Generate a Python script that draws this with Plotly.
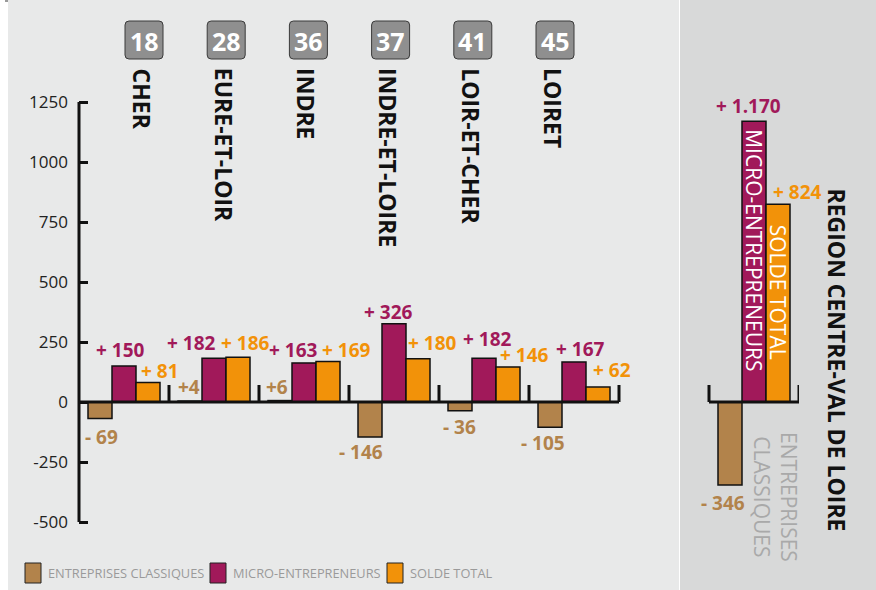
import plotly.graph_objects as go

# ── data ──────────────────────────────────────────────────────────────────────
DEPARTEMENTS = ["CHER", "EURE-ET-LOIR", "INDRE", "INDRE-ET-LOIRE", "LOIR-ET-CHER", "LOIRET"]
CODES = ["18", "28", "36", "37", "41", "45"]
REGION = "REGION CENTRE-VAL DE LOIRE"

CLASSIQUES = [-69, 4, 6, -146, -36, -105]
MICRO = [150, 182, 163, 326, 182, 167]
SOLDE = [81, 186, 169, 180, 146, 62]

REGION_CLASSIQUES = -346
REGION_MICRO = 1170
REGION_SOLDE = 824

SERIES_NAMES = ["ENTREPRISES CLASSIQUES", "MICRO-ENTREPRENEURS", "SOLDE TOTAL"]
Y_TICKS = [-500, -250, 0, 250, 500, 750, 1000, 1250]

# ── style ─────────────────────────────────────────────────────────────────────
C_BROWN = "#b2834b"
C_MAGENTA = "#a1195a"
C_ORANGE = "#f29209"
COLORS = [C_BROWN, C_MAGENTA, C_ORANGE]
BG_LEFT = "#e8e9e9"
BG_RIGHT = "#d8d9d9"
FONT = "Open Sans"

W, H = 876, 590
PX_PER_UNIT = 0.24       # vertical scale (px per value unit)
ZERO_PX = 402            # pixel row of value 0
PLOT_L, PLOT_R = 79, 799

# label nudges (px): horizontal offset, distance from bar end
NUDGE_DX = [
    [1, -1, -3.5, -9.5, -0.5, -7.5, -7.5],
    [-3.5, -22.5, -10.5, -5.5, 3.5, 6.5, -5.5],
    [12, 7.5, 18.5, 14.5, 16.5, 13.5, 19.5],
]
NUDGE_DY = [
    [18, 14, 14, 15, 16, 16, 18],
    [16, 15, 13, 12, 19, 13, 15],
    [12, 14, 11, 16, 12, 17, 12],
]


def px_x(px):
    return (px - PLOT_L) / (PLOT_R - PLOT_L)


def px_y(py):
    return (H - py) / H


def fmt(v):
    sign = "+" if v > 0 else "-"
    num = f"{abs(v):,}".replace(",", ".")
    return sign + ("" if abs(v) < 10 else " ") + num


x_pos = list(range(len(DEPARTEMENTS))) + [len(DEPARTEMENTS) + 1]
series = [
    CLASSIQUES + [REGION_CLASSIQUES],
    MICRO + [REGION_MICRO],
    SOLDE + [REGION_SOLDE],
]

fig = go.Figure()
for name, vals, col in zip(SERIES_NAMES, series, COLORS):
    fig.add_trace(go.Bar(
        x=x_pos, y=vals, name=name,
        marker=dict(color=col, line=dict(color="#111", width=1.5)),
        showlegend=False, hoverinfo="skip",
    ))

y_top = ZERO_PX / PX_PER_UNIT
y_bot = (ZERO_PX - H) / PX_PER_UNIT

fig.update_layout(
    width=W, height=H,
    margin=dict(l=PLOT_L, r=W - PLOT_R, t=0, b=0, pad=0),
    paper_bgcolor="white",
    plot_bgcolor="rgba(0,0,0,0)",
    barmode="group", bargap=0.2, bargroupgap=0,
    font=dict(family=FONT, color="#222"),
    xaxis=dict(range=[-0.5, 7.5], visible=False, fixedrange=True),
    yaxis=dict(
        range=[y_bot, y_top], tickvals=Y_TICKS, ticktext=[str(t) for t in Y_TICKS],
        ticks="inside", ticklen=9, tickwidth=3, tickcolor="#111",
        showgrid=False, zeroline=False, showline=False, fixedrange=True,
        tickfont=dict(size=17, color="#222"), ticklabelstandoff=10,
    ),
)

# background panels
fig.add_shape(type="rect", xref="paper", yref="paper", layer="below",
              x0=px_x(8), x1=px_x(679), y0=0, y1=1, fillcolor=BG_LEFT, line_width=0)
fig.add_shape(type="rect", xref="paper", yref="paper", layer="below",
              x0=px_x(680), x1=px_x(W), y0=0, y1=1, fillcolor=BG_RIGHT, line_width=0)
fig.add_shape(type="rect", xref="paper", yref="paper", layer="below",
              x0=px_x(5), x1=px_x(8), y0=px_y(2), y1=1, fillcolor="#9a9a9a", line_width=0)

# axes drawn by hand
stub = 17 / PX_PER_UNIT
fig.add_shape(type="line", xref="paper", yref="y", x0=0, x1=0,
              y0=Y_TICKS[0], y1=Y_TICKS[-1], line=dict(color="#111", width=3))
fig.add_shape(type="line", x0=-0.5, x1=len(DEPARTEMENTS) - 0.5, y0=0, y1=0,
              line=dict(color="#111", width=3))
for i in range(len(DEPARTEMENTS)):
    fig.add_shape(type="line", x0=i + 0.5, x1=i + 0.5, y0=0, y1=stub,
                  line=dict(color="#111", width=3))
rx = x_pos[-1]
fig.add_shape(type="line", x0=rx - 0.5, x1=rx + 0.5, y0=0, y1=0,
              line=dict(color="#111", width=3))
for xx in (rx - 0.5, rx + 0.5):
    fig.add_shape(type="line", x0=xx, x1=xx, y0=0, y1=stub,
                  line=dict(color="#111", width=3))

# value labels
bar_w = (1 - 0.2) / 3
for s, (vals, col) in enumerate(zip(series, COLORS)):
    for g, (xv, v) in enumerate(zip(x_pos, vals)):
        gap = NUDGE_DY[s][g]
        fig.add_annotation(
            x=xv + (s - 1) * bar_w, y=v, text=fmt(v), showarrow=False,
            xanchor="center", yanchor="middle",
            xshift=NUDGE_DX[s][g], yshift=gap if v > 0 else -gap,
            font=dict(size=19, color=col, family=FONT, weight="bold"),
        )

# department headers: badge + rotated name
BADGE_X0, BADGE_STEP, BADGE_Y = 144, 82.2, 40
badge_path = ("M -15,-19 L 15,-19 Q 19,-19 19,-15 L 19,15 Q 19,19 15,19 "
              "L -15,19 Q -19,19 -19,15 L -19,-15 Q -19,-19 -15,-19 Z")
for i, (code, dep) in enumerate(zip(CODES, DEPARTEMENTS)):
    cx = BADGE_X0 + i * BADGE_STEP
    fig.add_shape(type="path", xref="paper", yref="paper",
                  xsizemode="pixel", ysizemode="pixel",
                  xanchor=px_x(cx), yanchor=px_y(BADGE_Y), path=badge_path,
                  fillcolor="#8f8f8f", line=dict(color="#3a3a3a", width=1))
    fig.add_annotation(xref="paper", yref="paper", x=px_x(cx), y=px_y(BADGE_Y + 1),
                       text=code, showarrow=False, xanchor="center", yanchor="middle",
                       font=dict(size=25, color="white", family=FONT, weight="bold"))
    fig.add_annotation(xref="paper", yref="paper", x=px_x(cx - 2), y=px_y(66),
                       text=dep, textangle=90, showarrow=False,
                       xanchor="center", yanchor="top",
                       font=dict(size=23, color="#111", family=FONT, weight="bold"))

# region panel texts
fig.add_annotation(xref="paper", yref="paper", x=px_x(837), y=px_y(186),
                   text=REGION, textangle=90, showarrow=False,
                   xanchor="center", yanchor="top",
                   font=dict(size=23, color="#111", family=FONT, weight="bold"))
fig.add_annotation(x=rx, y=REGION_MICRO, text=SERIES_NAMES[1], textangle=90,
                   showarrow=False, xanchor="center", yanchor="top", yshift=-6,
                   font=dict(size=21, color="white", family=FONT))
fig.add_annotation(x=rx + bar_w, y=REGION_SOLDE, text=SERIES_NAMES[2], textangle=90,
                   showarrow=False, xanchor="center", yanchor="top", yshift=-18,
                   font=dict(size=21, color="white", family=FONT))
fig.add_annotation(xref="paper", yref="paper", x=px_x(776), y=px_y(430),
                   text="ENTREPRISES<br>CLASSIQUES", textangle=90, showarrow=False,
                   xanchor="center", yanchor="top",
                   font=dict(size=21, color="#a9a9a9", family=FONT))

# custom legend
LEG_X = [25, 210, 387]
for lx, name, col in zip(LEG_X, SERIES_NAMES, COLORS):
    fig.add_shape(type="rect", xref="paper", yref="paper",
                  x0=px_x(lx), x1=px_x(lx + 16), y0=px_y(583), y1=px_y(563),
                  fillcolor=col, line=dict(color="#222", width=1))
    fig.add_annotation(xref="paper", yref="paper", x=px_x(lx + 21), y=px_y(573),
                       text=name, showarrow=False, xanchor="left", yanchor="middle",
                       font=dict(size=12.8, color="#9a9a9a", family=FONT))

fig.write_html("out.html", config={"displayModeBar": False},
               post_script="document.body.style.margin='0';")
